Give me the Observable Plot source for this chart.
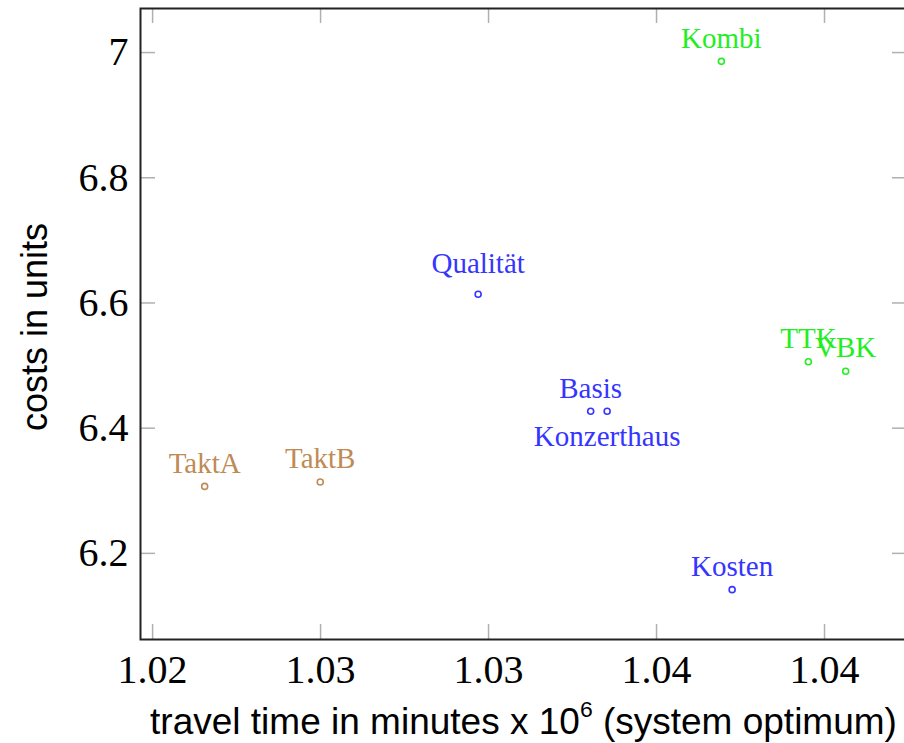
<!DOCTYPE html>
<html>
<head>
<meta charset="utf-8">
<script src="https://cdn.jsdelivr.net/npm/d3@7"></script>
<script src="https://cdn.jsdelivr.net/npm/@observablehq/plot@0.6"></script>
<style>
  html, body { margin: 0; padding: 0; background: #fff; overflow: hidden; width: 904px; height: 743px; }
  #chart { width: 910px; height: 690px; }
  #chart svg { max-width: none !important; }
  #xtitle { width: 767px; padding-left: 140px; height: 53px; line-height: 64px; text-align: center;
            font-family: "Liberation Sans", Arial, sans-serif; font-size: 37px; color: #000; white-space: nowrap; }
  #xtitle sup { font-size: 0.62em; line-height: 0; vertical-align: 0.75em; }
  #chart svg text.serif { font-family: "Liberation Serif", "DejaVu Serif", serif !important; }
  #chart svg text.sans { font-family: "Liberation Sans", Arial, sans-serif !important; }
</style>
</head>
<body>
<div id="chart"></div>
<div id="xtitle">travel time in minutes x 10<sup>6</sup> (system optimum)</div>
<script>
// ---- data ----
const names      = ["TaktA", "TaktB", "Qualität", "Basis", "Konzerthaus", "Kosten", "Kombi", "TTK", "VBK"];
const travelTime = [1.02155, 1.02499, 1.02969, 1.03304, 1.03353, 1.03725, 1.03693, 1.03952, 1.04063];
const costs      = [6.307, 6.314, 6.614, 6.427, 6.427, 6.142, 6.986, 6.506, 6.491];
const groups     = ["takt", "takt", "base", "base", "base", "base", "combo", "combo", "combo"];
const labelSide  = ["above", "above", "above", "above", "below", "above", "above", "above", "above"];

const xTicks      = [1.020, 1.025, 1.030, 1.035, 1.040];
const xTickLabels = ["1.02", "1.03", "1.03", "1.04", "1.04"];
const yTicks      = [6.2, 6.4, 6.6, 6.8, 7.0];
const yTickLabels = ["6.2", "6.4", "6.6", "6.8", "7"];

const xDomain = [1.01964, 1.04247];
const yDomain = [6.0624, 7.0704];

const groupColors = {takt: "#c08a55", base: "#3535ff", combo: "#22ee22"};

// ---- layout ----
const W = 910, H = 690, mL = 140, mR = 3, mT = 8, mB = 51;
const innerW = W - mL - mR, innerH = H - mT - mB;
const tickLen = 15;

const data = names.map((n, i) => ({
  name: n, x: travelTime[i], y: costs[i], group: groups[i], side: labelSide[i],
  desc: /[Qgjpqy]/.test(n)
}));

const chart = Plot.plot({
  width: W, height: H,
  marginLeft: mL, marginRight: mR, marginTop: mT, marginBottom: mB,
  style: {background: "white", overflow: "visible", maxWidth: "none"},
  x: {domain: xDomain},
  y: {domain: yDomain},
  marks: [
    // inward ticks: bottom, top, left, right
    Plot.ruleX(xTicks, {x: d => d, insetTop: innerH - tickLen, stroke: "#b0b0b0", strokeWidth: 1.5}),
    Plot.ruleX(xTicks, {x: d => d, insetBottom: innerH - tickLen, stroke: "#b0b0b0", strokeWidth: 1.5}),
    Plot.ruleY(yTicks, {y: d => d, insetRight: innerW - tickLen, stroke: "#b0b0b0", strokeWidth: 1.5}),
    Plot.ruleY(yTicks, {y: d => d, insetLeft: innerW - tickLen, stroke: "#b0b0b0", strokeWidth: 1.5}),
    Plot.axisX(xTicks, {tickSize: 0, tickPadding: 15, label: null, fontSize: 40, color: "#000",
      tickFormat: d => xTickLabels[xTicks.indexOf(d)]}),
    Plot.axisY(yTicks, {tickSize: 0, tickPadding: 12, label: null, fontSize: 40, color: "#000",
      tickFormat: d => yTickLabels[yTicks.indexOf(d)]}),
    Plot.frame({stroke: "#222", strokeWidth: 2}),
    Plot.text(["costs in units"], {frameAnchor: "left", rotate: -90, dx: -105, dy: 3, fontSize: 36,
      fill: "#000", textAnchor: "middle"}),
    Plot.dot(data, {x: "x", y: "y", r: 3, stroke: d => groupColors[d.group], strokeWidth: 1.6, fill: "white"}),
    Plot.text(data.filter(d => d.side === "above" && !d.desc), {x: "x", y: "y", text: "name",
      fill: d => groupColors[d.group], fontSize: 29, textAnchor: "middle", dy: -23}),
    Plot.text(data.filter(d => d.side === "above" && d.desc), {x: "x", y: "y", text: "name",
      fill: d => groupColors[d.group], fontSize: 29, textAnchor: "middle", dy: -30}),
    Plot.text(data.filter(d => d.side === "below"), {x: "x", y: "y", text: "name",
      fill: d => groupColors[d.group], fontSize: 29, textAnchor: "middle", dy: 25})
  ]
});
document.getElementById("chart").appendChild(chart);
d3.select(chart).selectAll("text").each(function() {
  this.classList.add(this.textContent === "costs in units" ? "sans" : "serif");
  this.removeAttribute("font-family");
});
d3.select(chart).selectAll("g").attr("font-family", null);
</script>
</body>
</html>
